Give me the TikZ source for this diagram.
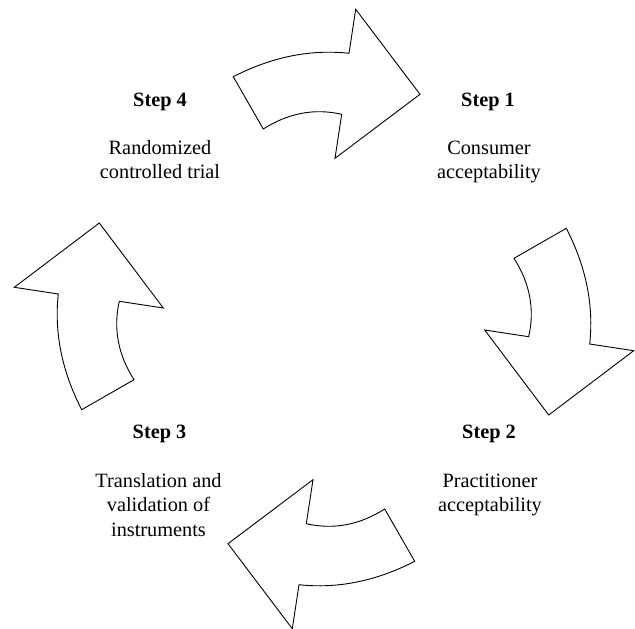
\documentclass[tikz,border=0pt]{standalone}
\usepackage{fontspec}
\setmainfont{Liberation Serif}
\begin{document}
\begin{tikzpicture}[x=1pt,y=1pt,
  bigarrow/.style={draw=black, line width=0.9pt, fill=white, line join=miter},
  steplabel/.style={font=\fontsize{20.3}{24.5}\selectfont\bfseries, inner sep=0pt, anchor=base},
  desclabel/.style={font=\fontsize{20.3}{24.5}\selectfont, inner sep=0pt, align=center, anchor=base}
]
\useasboundingbox (0,0) rectangle (635,-629);
\coordinate (ctr) at (324,-319);
\foreach \ang/\nm in {0/one, -90/two, -180/three, 90/four}{
  \begin{scope}[shift={(ctr)}, rotate=\ang]
    \draw[bigarrow] (-90.7,242.3) .. controls (-52.2,262.1) and (-13.7,269.9) .. (25,265.7)
      -- (31.7,309.7) -- (96,224.7) -- (11,160.7) -- (17.7,204.7)
      .. controls (-9.4,210.9) and (-35.6,206) .. (-60.7,190) -- cycle;
  \end{scope}
}
% anchor=base of a multi-line node is the baseline of its last line
\node[steplabel] (s4) at (160,-106) {Step 4};
\node[desclabel] (d4) at (160,-178.5) {Randomized\\controlled trial};
\node[steplabel] (s1) at (488,-106) {Step 1};
\node[desclabel] (d1) at (489,-178.5) {Consumer\\acceptability};
\node[steplabel] (s2) at (489,-438) {Step 2};
\node[desclabel] (d2) at (490,-511.5) {Practitioner\\acceptability};
\node[steplabel] (s3) at (159.5,-438) {Step 3};
\node[desclabel] (d3) at (158.5,-536) {Translation and\\validation of\\instruments};
\end{tikzpicture}
\end{document}
